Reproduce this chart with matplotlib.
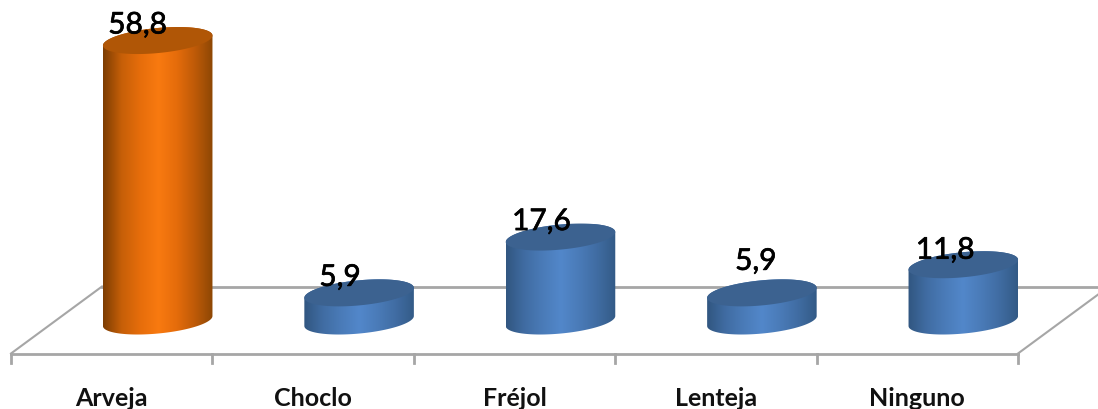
import numpy as np
import matplotlib
matplotlib.use("Agg")
import matplotlib.pyplot as plt
import matplotlib.patheffects as pe
from matplotlib.colors import LinearSegmentedColormap
from matplotlib.patches import Polygon

categories = ["Arveja", "Choclo", "Fréjol", "Lenteja", "Ninguno"]
values = [58.8, 5.9, 17.6, 5.9, 11.8]
value_labels = ["58,8", "5,9", "17,6", "5,9", "11,8"]

# pixel scale of the axes
PX_X = 201.4
PX_Y = 4.77
W, H = 1098, 410
LEFT = 11
BASE = 322

# cylinder shape, in pixels
SEMI_A = 55.0
SEMI_B = 12.5
TILT = np.radians(5.5)
DEPTH_DX = 46 / PX_X

# nudges of the value labels from the top of each cylinder, in pixels
label_dx = [-20, -19, -19, -6, -18]
label_dy = [16, 16, 16, 32, 15]

orange = ["#7c3d02", "#c65f08", "#e66d0b", "#f97a10", "#e56c0b", "#bd5a08", "#8a4604"]
blue = ["#315680", "#406ca2", "#4a7bb8", "#5287ca", "#4a7bb8", "#406ca2", "#335a86"]
top_orange = "#b05606"
top_blue = "#3c6290"


def ellipse_xy(t):
    x = SEMI_A * np.cos(t) * np.cos(TILT) - SEMI_B * np.sin(t) * np.sin(TILT)
    y = SEMI_A * np.cos(t) * np.sin(TILT) + SEMI_B * np.sin(t) * np.cos(TILT)
    return x / PX_X, y / PX_Y


def draw_cylinder(ax, center, value, colors, top_color):
    t0 = np.arctan2(-SEMI_B * np.sin(TILT), SEMI_A * np.cos(TILT))
    up = np.linspace(t0, t0 + np.pi, 80)
    down = np.linspace(t0 + np.pi, t0 + 2 * np.pi, 80)
    ux, uy = ellipse_xy(up)
    dx, dy = ellipse_xy(down)
    body = np.vstack([
        np.column_stack([center + ux, value + uy]),
        np.column_stack([center + dx, dy]),
    ])
    clip = Polygon(body, closed=True, transform=ax.transData, fc="none", ec="none")
    ax.add_patch(clip)

    # horizontal shading across the body
    cmap = LinearSegmentedColormap.from_list("shade", colors)
    half = SEMI_A / PX_X
    grad = np.linspace(0, 1, 256).reshape(1, -1)
    im = ax.imshow(grad, cmap=cmap, aspect="auto", zorder=3,
                   extent=[center - half, center + half, body[:, 1].min(), body[:, 1].max()])
    im.set_clip_path(clip)

    tx, ty = ellipse_xy(np.linspace(0, 2 * np.pi, 160))
    ax.fill(center + tx, value + ty, color=top_color, lw=0, zorder=4)


fig = plt.figure(figsize=(W / 100, H / 100), dpi=100)
ax = fig.add_axes([0, 0, 1, 1])
ax.axis("off")
xlim = (-LEFT / PX_X, (W - LEFT) / PX_X)
ylim = ((BASE - H) / PX_Y, BASE / PX_Y)

# floor of the 3D plot
n = len(categories)
grey = "#a6a6a6"
front = (BASE - 354.5) / PX_Y
back = (BASE - 287.5) / PX_Y
tick = (BASE - 364) / PX_Y
depth = 91 / PX_X
ax.plot([0, n], [front, front], color=grey, lw=2, zorder=1)
ax.plot([depth, n + depth], [back, back], color=grey, lw=2, zorder=1)
ax.plot([0, depth], [front, back], color=grey, lw=1.5, zorder=1)
ax.plot([n, n + depth], [front, back], color=grey, lw=1.5, zorder=1)
for i in range(n + 1):
    ax.plot([i, i], [front, tick], color=grey, lw=2, zorder=1)

# a thin stroke gives the value labels a slightly heavier weight
heavier = [pe.withStroke(linewidth=0.5, foreground="black")]

for i, (cat, val, lab) in enumerate(zip(categories, values, value_labels)):
    center = i + 0.5 + DEPTH_DX
    if i == 0:
        draw_cylinder(ax, center, val, orange, top_orange)
    else:
        draw_cylinder(ax, center, val, blue, top_blue)
    ax.text(center + label_dx[i] / PX_X, val + label_dy[i] / PX_Y, lab,
            family="Lato", fontsize=21.5, color="black", ha="center", va="center",
            zorder=5, path_effects=heavier)
    ax.text(i + 0.5, (BASE - 398.5) / PX_Y, cat, family="Lato", fontweight="bold",
            fontsize=18, color="#111111", ha="center", va="center", zorder=5)

ax.set_xlim(xlim)
ax.set_ylim(ylim)

plt.savefig("out.png", dpi=100)
plt.close()
